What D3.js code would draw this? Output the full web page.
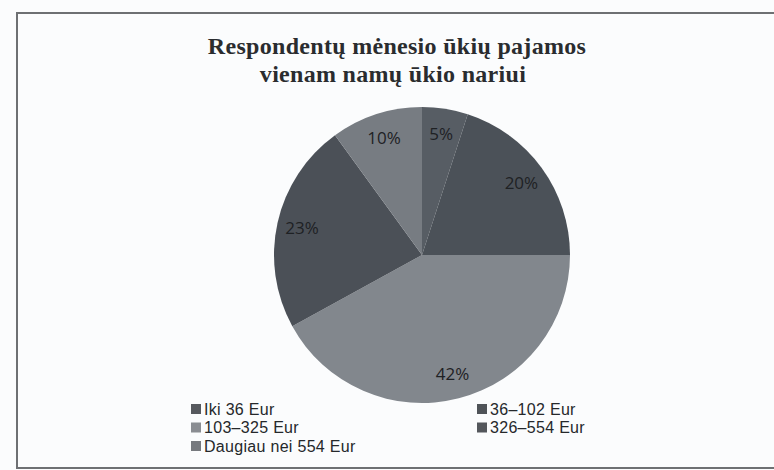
<!DOCTYPE html>
<html>
<head>
<meta charset="utf-8">
<script src="https://cdn.jsdelivr.net/npm/d3@7"></script>
<style>
  body { margin: 0; background: #fbfcfd; }
</style>
</head>
<body>
<div id="chart"></div>
<script>
// Pie: household income per member

var categories = ["Iki 36 Eur", "36\u2013102 Eur", "103\u2013325 Eur", "326\u2013554 Eur", "Daugiau nei 554 Eur"];
var shares = [5, 20, 42, 23, 10];
var sliceColors = ["#575d64", "#4b5158", "#82878d", "#4b5057", "#777c82"];
var legendColors = ["#56595e", "#4f5358", "#8a8d92", "#54575c", "#76797e"];

var width = 774, height = 470;

var svg = d3.select("#chart").append("svg")
    .attr("width", width)
    .attr("height", height);

svg.append("rect")
    .attr("width", width)
    .attr("height", height)
    .attr("fill", "#fbfcfd");

// frame
svg.append("rect")
    .attr("x", 17)
    .attr("y", 13)
    .attr("width", width + 10)
    .attr("height", 455)
    .attr("fill", "none")
    .attr("stroke", "#6e7073")
    .attr("stroke-width", 2);

// title
var title = svg.append("text")
    .attr("text-anchor", "middle")
    .style("font-family", "'Liberation Serif', 'DejaVu Serif', serif")
    .style("font-weight", "bold")
    .style("font-size", "24px")
    .style("letter-spacing", "0.3px")
    .attr("fill", "#2a2c2f");
title.append("tspan").attr("x", 397).attr("y", 54).text("Respondent\u0173 m\u0117nesio \u016bki\u0173 pajamos");
title.append("tspan").attr("x", 393).attr("y", 82).text("vienam nam\u0173 \u016bkio nariui");

// pie
var cx = 422, cy = 255, radius = 148;

var pie = d3.pie().sort(null).value(function(d) { return d; });
var arc = d3.arc().innerRadius(0).outerRadius(radius);
var labelArc = d3.arc().innerRadius(radius * 0.83).outerRadius(radius * 0.83);

var g = svg.append("g")
    .attr("transform", "translate(" + cx + "," + cy + ")");

var slices = g.selectAll("g.slice")
    .data(pie(shares))
    .enter().append("g")
    .attr("class", "slice");

slices.append("path")
    .attr("d", arc)
    .attr("fill", function(d, i) { return sliceColors[i]; });

slices.append("text")
    .attr("transform", function(d) { return "translate(" + labelArc.centroid(d) + ")"; })
    .attr("text-anchor", "middle")
    .attr("dy", "0.35em")
    .style("font-family", "'Open Sans', 'Liberation Sans', sans-serif")
    .style("font-size", "17px")
    .attr("fill", "#1e2124")
    .text(function(d) { return d.data + "%"; });

// legend: two columns
var legendPos = [
    {x: 191, y: 409}, {x: 477, y: 409},
    {x: 191, y: 427.5}, {x: 477, y: 427.5},
    {x: 191, y: 446}
];

var legend = svg.selectAll("g.legend")
    .data(categories)
    .enter().append("g")
    .attr("class", "legend")
    .attr("transform", function(d, i) { return "translate(" + legendPos[i].x + "," + legendPos[i].y + ")"; });

legend.append("rect")
    .attr("x", 0)
    .attr("y", -5)
    .attr("width", 10)
    .attr("height", 10)
    .attr("fill", function(d, i) { return legendColors[i]; });

legend.append("text")
    .attr("x", 13)
    .attr("dy", "0.36em")
    .style("font-family", "'Liberation Sans', Arial, sans-serif")
    .style("font-size", "16px")
    .style("letter-spacing", "0.3px")
    .attr("fill", "#25282b")
    .text(function(d) { return d; });
</script>
</body>
</html>
